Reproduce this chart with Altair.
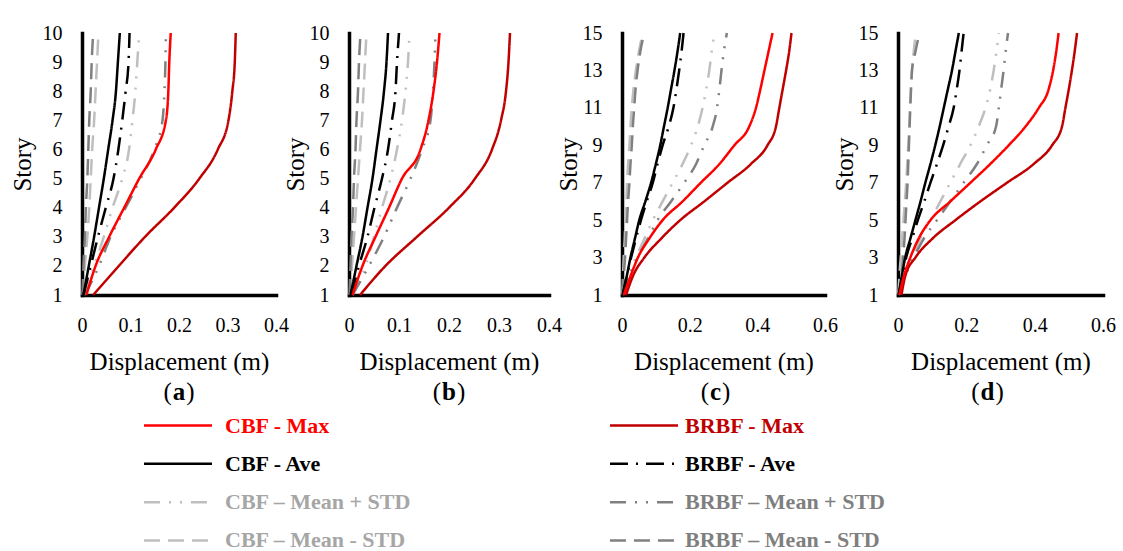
import altair as alt
import pandas as pd

# ---------------- data ----------------
STORIES_10 = list(range(1, 11))
STORIES_15 = list(range(1, 16))

# Panel (a)
A_CBF_MAX = [0.009, 0.028, 0.056, 0.087, 0.118, 0.152, 0.173, 0.178, 0.180, 0.183]
A_BRBF_MAX = [0.023, 0.076, 0.130, 0.190, 0.242, 0.280, 0.302, 0.310, 0.315, 0.317]
A_CBF_AVE = [0.003, 0.014, 0.025, 0.035, 0.045, 0.054, 0.063, 0.070, 0.074, 0.078]
A_BRBF_AVE = [0.003, 0.018, 0.033, 0.049, 0.065, 0.075, 0.083, 0.090, 0.096, 0.098]
A_CBF_MPS = [0.004, 0.025, 0.045, 0.063, 0.083, 0.097, 0.104, 0.110, 0.114, 0.118]
A_BRBF_MPS = [0.006, 0.035, 0.059, 0.090, 0.121, 0.149, 0.166, 0.170, 0.172, 0.173]
A_CBF_MMS = [0.002, 0.006, 0.011, 0.015, 0.018, 0.021, 0.025, 0.028, 0.031, 0.034]
A_BRBF_MMS = [0.001, 0.003, 0.006, 0.008, 0.011, 0.013, 0.015, 0.018, 0.020, 0.023]

# Panel (b)
B_CBF_MAX = [0.007, 0.027, 0.053, 0.080, 0.106, 0.143, 0.159, 0.169, 0.176, 0.181]
B_BRBF_MAX = [0.022, 0.073, 0.136, 0.200, 0.252, 0.286, 0.304, 0.314, 0.319, 0.322]
B_CBF_AVE = [0.003, 0.015, 0.027, 0.037, 0.047, 0.055, 0.063, 0.070, 0.075, 0.078]
B_BRBF_AVE = [0.005, 0.020, 0.037, 0.051, 0.066, 0.078, 0.086, 0.093, 0.096, 0.100]
B_CBF_MPS = [0.007, 0.033, 0.050, 0.066, 0.083, 0.096, 0.106, 0.113, 0.118, 0.121]
B_BRBF_MPS = [0.007, 0.040, 0.070, 0.096, 0.123, 0.146, 0.163, 0.168, 0.171, 0.173]
B_CBF_MMS = [0.002, 0.006, 0.010, 0.014, 0.018, 0.022, 0.026, 0.029, 0.032, 0.035]
B_BRBF_MMS = [0.001, 0.003, 0.005, 0.008, 0.010, 0.013, 0.015, 0.018, 0.020, 0.023]

# Panel (c)
C_CBF_MAX = [0.005, 0.025, 0.047, 0.080, 0.120, 0.179, 0.233, 0.288, 0.332, 0.376, 0.396, 0.409, 0.421, 0.433, 0.445]
C_BRBF_MAX = [0.012, 0.032, 0.066, 0.115, 0.172, 0.243, 0.312, 0.381, 0.430, 0.455, 0.465, 0.475, 0.485, 0.494, 0.501]
C_CBF_AVE = [0.002, 0.014, 0.025, 0.038, 0.051, 0.069, 0.086, 0.100, 0.113, 0.124, 0.135, 0.145, 0.155, 0.164, 0.172]
C_BRBF_AVE = [0.002, 0.014, 0.027, 0.041, 0.056, 0.073, 0.091, 0.105, 0.120, 0.138, 0.152, 0.161, 0.169, 0.176, 0.182]
C_CBF_MPS = [0.002, 0.019, 0.041, 0.066, 0.091, 0.120, 0.150, 0.179, 0.204, 0.224, 0.238, 0.249, 0.258, 0.265, 0.273]
C_BRBF_MPS = [0.002, 0.022, 0.046, 0.076, 0.105, 0.145, 0.184, 0.219, 0.243, 0.268, 0.281, 0.288, 0.294, 0.301, 0.310]
C_CBF_MMS = [0.001, 0.003, 0.005, 0.008, 0.010, 0.013, 0.015, 0.018, 0.022, 0.025, 0.029, 0.034, 0.041, 0.050, 0.061]
C_BRBF_MMS = [0.002, 0.005, 0.009, 0.012, 0.015, 0.018, 0.022, 0.025, 0.029, 0.032, 0.036, 0.040, 0.046, 0.054, 0.066]

# Panel (d)
D_CBF_MAX = [0.004, 0.017, 0.036, 0.060, 0.095, 0.153, 0.212, 0.270, 0.324, 0.373, 0.412, 0.441, 0.454, 0.463, 0.470]
D_BRBF_MAX = [0.010, 0.021, 0.051, 0.100, 0.168, 0.241, 0.319, 0.397, 0.451, 0.480, 0.490, 0.500, 0.509, 0.517, 0.524]
D_CBF_AVE = [0.002, 0.011, 0.021, 0.036, 0.051, 0.066, 0.080, 0.095, 0.109, 0.122, 0.134, 0.146, 0.158, 0.168, 0.178]
D_BRBF_AVE = [0.002, 0.013, 0.024, 0.041, 0.058, 0.077, 0.095, 0.114, 0.132, 0.148, 0.163, 0.172, 0.180, 0.186, 0.192]
D_CBF_MPS = [0.002, 0.019, 0.041, 0.065, 0.095, 0.124, 0.153, 0.182, 0.212, 0.236, 0.256, 0.270, 0.280, 0.288, 0.295]
D_BRBF_MPS = [0.002, 0.021, 0.046, 0.075, 0.114, 0.153, 0.192, 0.231, 0.260, 0.287, 0.295, 0.302, 0.309, 0.315, 0.322]
D_CBF_MMS = [0.001, 0.004, 0.008, 0.012, 0.016, 0.020, 0.024, 0.027, 0.030, 0.033, 0.035, 0.038, 0.041, 0.046, 0.052]
D_BRBF_MMS = [0.002, 0.010, 0.015, 0.019, 0.022, 0.025, 0.028, 0.030, 0.032, 0.034, 0.036, 0.038, 0.041, 0.051, 0.063]

# series (draw order) and styles
SERIES = ["CBF – Mean - STD", "BRBF – Mean - STD", "CBF – Mean + STD", "BRBF – Mean + STD",
          "CBF - Ave", "BRBF - Ave", "BRBF - Max", "CBF - Max"]
COLORS = ["#bfbfbf", "#808080", "#bfbfbf", "#808080", "#000000", "#000000", "#c00000", "#ff0000"]
TEXT_COLORS = ["#a6a6a6", "#7f7f7f", "#a6a6a6", "#7f7f7f", "#000000", "#000000", "#c00000", "#ff0000"]
DASHES = [[16, 8], [16, 8], [16, 9, 2, 9, 2, 9], [16, 9, 2, 9, 2, 9],
          [1, 0], [18, 8, 2, 8], [1, 0], [1, 0]]

LEGEND_CBF = ["CBF - Max", "CBF - Ave", "CBF – Mean + STD", "CBF – Mean - STD"]
LEGEND_BRBF = ["BRBF - Max", "BRBF - Ave", "BRBF – Mean + STD", "BRBF – Mean - STD"]

PANELS = [
    ("a", STORIES_10, [A_CBF_MMS, A_BRBF_MMS, A_CBF_MPS, A_BRBF_MPS, A_CBF_AVE, A_BRBF_AVE, A_BRBF_MAX, A_CBF_MAX]),
    ("b", STORIES_10, [B_CBF_MMS, B_BRBF_MMS, B_CBF_MPS, B_BRBF_MPS, B_CBF_AVE, B_BRBF_AVE, B_BRBF_MAX, B_CBF_MAX]),
    ("c", STORIES_15, [C_CBF_MMS, C_BRBF_MMS, C_CBF_MPS, C_BRBF_MPS, C_CBF_AVE, C_BRBF_AVE, C_BRBF_MAX, C_CBF_MAX]),
    ("d", STORIES_15, [D_CBF_MMS, D_BRBF_MMS, D_CBF_MPS, D_BRBF_MPS, D_CBF_AVE, D_BRBF_AVE, D_BRBF_MAX, D_CBF_MAX]),
]
X_MAX = {"a": 0.4, "b": 0.4, "c": 0.6, "d": 0.6}
X_TICKS = {"a": [0, 0.1, 0.2, 0.3, 0.4], "b": [0, 0.1, 0.2, 0.3, 0.4],
           "c": [0, 0.2, 0.4, 0.6], "d": [0, 0.2, 0.4, 0.6]}
Y_TICKS = {"a": STORIES_10, "b": STORIES_10,
           "c": [1, 3, 5, 7, 9, 11, 13, 15], "d": [1, 3, 5, 7, 9, 11, 13, 15]}

# ---------------- layout / style ----------------
SERIF = "Liberation Serif"
PANEL_W = {"a": 194, "b": 200, "c": 203, "d": 205}
PANEL_H = 262
Y_TITLE_PAD = {"a": 7, "b": 1, "c": 1, "d": 1}
SUB_DX = {"a": 0, "b": 0, "c": -8, "d": -13}
SUB_HALF = {"a": 7.2, "b": 8.0, "c": 6.5, "d": 8.0}

color_scale = alt.Scale(domain=SERIES, range=COLORS)
dash_scale = alt.Scale(domain=SERIES, range=DASHES)


def make_panel(letter, stories, values):
    rows = []
    for name, vals in zip(SERIES, values):
        for s, v in zip(stories, vals):
            rows.append({"series": name, "story": s, "disp": v})
    df = pd.DataFrame(rows)
    w = PANEL_W[letter]
    lines = alt.Chart(df).mark_line(strokeWidth=2.5, interpolate="monotone").encode(
        x=alt.X("disp:Q",
                scale=alt.Scale(domain=[0, X_MAX[letter]], nice=False),
                axis=alt.Axis(values=X_TICKS[letter], format="~g", title="Displacement (m)",
                              labelPadding=20, titlePadding=14)),
        y=alt.Y("story:Q",
                scale=alt.Scale(domain=[1, stories[-1]], nice=False, zero=False),
                axis=alt.Axis(values=Y_TICKS[letter], format="d", title="Story",
                              labelPadding=20, titlePadding=Y_TITLE_PAD[letter])),
        color=alt.Color("series:N", scale=color_scale, legend=None),
        strokeDash=alt.StrokeDash("series:N", scale=dash_scale, legend=None),
        order=alt.Order("story:Q"),
    )
    cx = w / 2 + SUB_DX[letter]
    ty = PANEL_H + 97
    hw = SUB_HALF[letter]
    lp = alt.Chart(pd.DataFrame({"t": ["("]})).mark_text(
        font=SERIF, fontSize=25, align="right", baseline="middle", color="black"
    ).encode(text="t:N", x=alt.value(cx - hw), y=alt.value(ty))
    mid = alt.Chart(pd.DataFrame({"t": [letter]})).mark_text(
        font=SERIF, fontSize=25, fontWeight="bold", align="center", baseline="middle", color="black"
    ).encode(text="t:N", x=alt.value(cx), y=alt.value(ty))
    rp = alt.Chart(pd.DataFrame({"t": [")"]})).mark_text(
        font=SERIF, fontSize=25, align="left", baseline="middle", color="black"
    ).encode(text="t:N", x=alt.value(cx + hw), y=alt.value(ty))
    return alt.layer(lines, lp, mid, rp).properties(width=w, height=PANEL_H)


panels = [make_panel(letter, stories, values) for letter, stories, values in PANELS]
top = alt.hconcat(*panels, spacing=73, bounds="flush")

# ---------------- legend ----------------
LEG_W = 1000
LEG_LINE_START = [62, 528]
LEG_LINE_LEN = 68
LEG_TEXT_START = [143, 603]
leg_rows = []
for col, names in enumerate([LEGEND_CBF, LEGEND_BRBF]):
    for row, name in enumerate(names):
        leg_rows.append({
            "series": name, "row": row,
            "x0": LEG_LINE_START[col], "x1": LEG_LINE_START[col] + LEG_LINE_LEN,
            "xt": LEG_TEXT_START[col],
            "tcolor": TEXT_COLORS[SERIES.index(name)],
        })
leg_df = pd.DataFrame(leg_rows)
leg_x = alt.Scale(domain=[0, LEG_W], nice=False, zero=False)
leg_y = alt.Scale(type="point", padding=0.25)
leg_lines = alt.Chart(leg_df).mark_rule(strokeWidth=2.5).encode(
    x=alt.X("x0:Q", scale=leg_x, axis=None),
    x2="x1:Q",
    y=alt.Y("row:O", scale=leg_y, axis=None),
    color=alt.Color("series:N", scale=color_scale, legend=None),
    strokeDash=alt.StrokeDash("series:N", scale=dash_scale, legend=None),
)
leg_text = alt.Chart(leg_df).mark_text(
    font=SERIF, fontSize=22, fontWeight="bold", align="left", baseline="middle"
).encode(
    x=alt.X("xt:Q", scale=leg_x, axis=None),
    y=alt.Y("row:O", scale=leg_y, axis=None),
    text="series:N",
    fill=alt.Fill("tcolor:N", scale=None),
)
legend = alt.layer(leg_lines, leg_text).properties(width=LEG_W, height=134)

chart = alt.vconcat(top, legend, spacing=9).properties(
    padding={"left": 10, "top": 23, "right": 0, "bottom": 0},
    background="white",
).configure_view(stroke=None).configure_axis(
    domainColor="black", domainWidth=3.5, domainCap="square",
    ticks=False, grid=False,
    labelFont=SERIF, labelFontSize=20, labelColor="black",
    labelFlush=False, labelOverlap=False,
    titleFont=SERIF, titleFontSize=25, titleFontWeight="normal", titleColor="black",
)

chart.save("out.html", embed_options={"renderer": "svg", "actions": False})
